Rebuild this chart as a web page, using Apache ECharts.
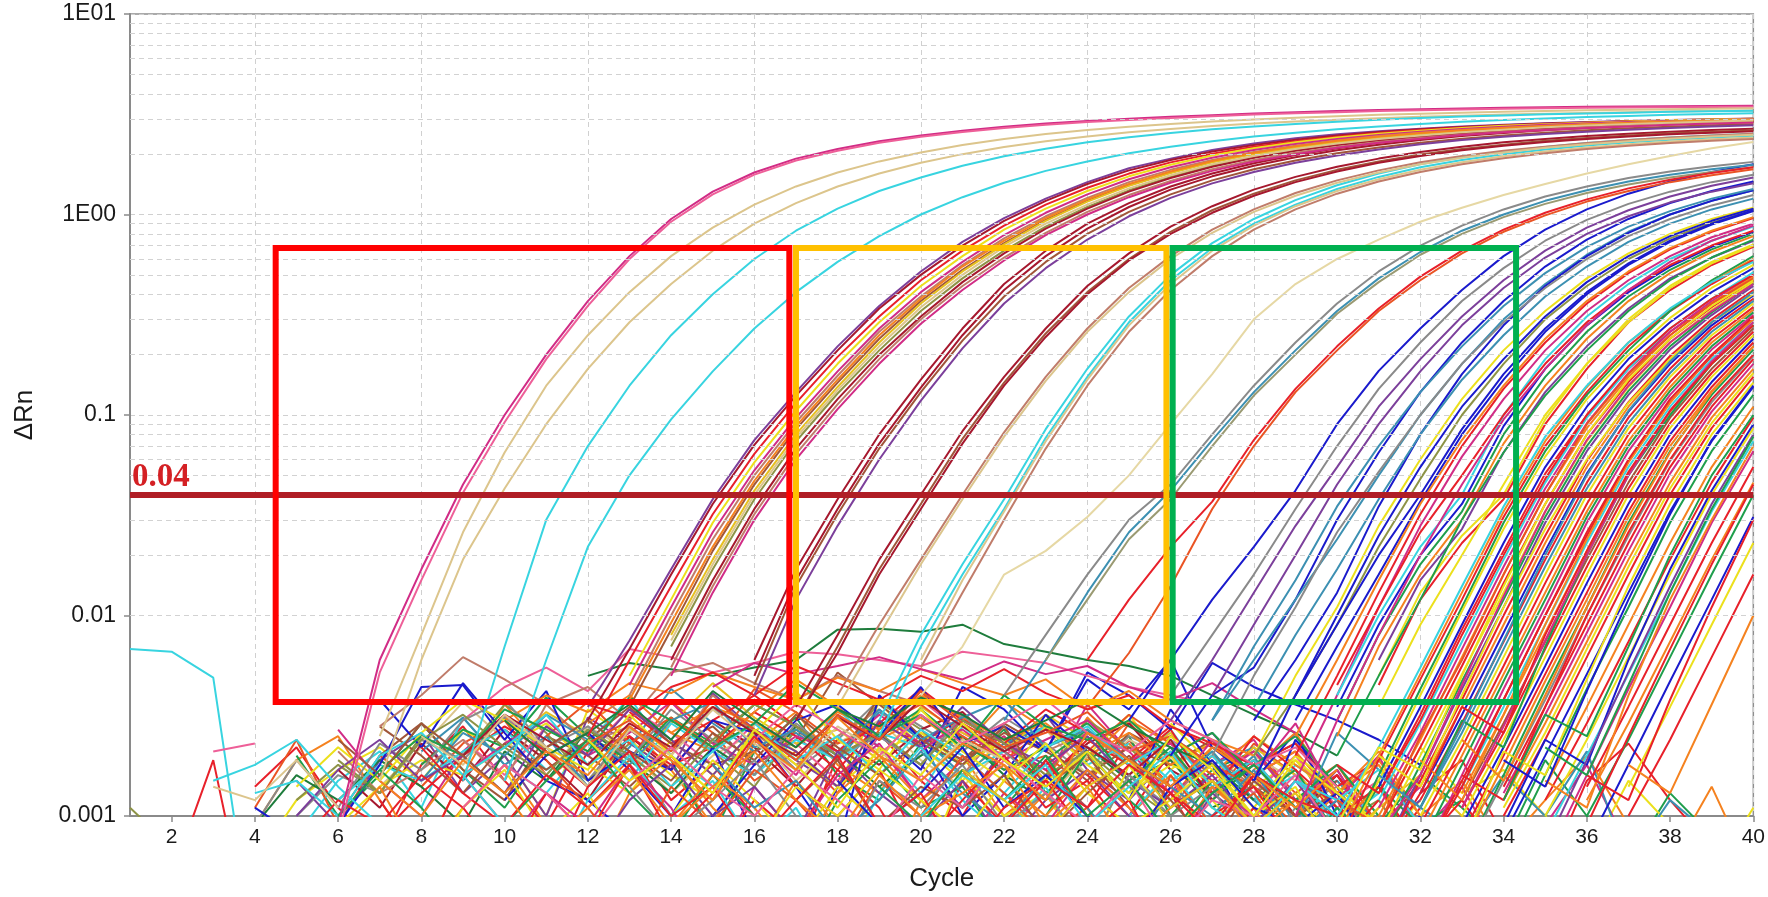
<!DOCTYPE html>
<html>
<head>
<meta charset="utf-8">
<script src="https://cdn.jsdelivr.net/npm/echarts@6/dist/echarts.min.js"></script>
<style>
  html, body { margin: 0; padding: 0; background: #fff; }
  #container { width: 1768px; height: 897px; }
</style>
</head>
<body>
<div id="container"></div>
<script>
// ---- axis data ----
var evenCycles = [2,4,6,8,10,12,14,16,18,20,22,24,26,28,30,32,34,36,38,40];
var minorRn = [0.002,0.003,0.004,0.005,0.006,0.007,0.008,0.009,
               0.02,0.03,0.04,0.05,0.06,0.07,0.08,0.09,
               0.2,0.3,0.4,0.5,0.6,0.7,0.8,0.9,
               2,3,4,5,6,7,8,9];
var thresholdRn = 0.04;

// highlight boxes, in cycles and ΔRn
var boxCycles = [[4.5, 16.84], [17.0, 25.9], [26.05, 34.3]];
var boxRn = [0.0037, 0.68];

// ---- amplification curves: [first cycle, ΔRn per cycle ...] ----
var curvesEarly = [
  [6, .0009,.006,.017,.045,.1,.2,.37,.62,.95,1.3,1.62,1.9,2.12,2.32,2.48,2.62,2.74,2.84,2.93,3.0,3.07,3.13,3.19,3.24,3.28,3.32,3.35,3.38,3.41,3.43,3.45,3.46,3.47,3.48,3.49],
  [6, .0008,.0052,.015,.041,.092,.19,.35,.6,.92,1.26,1.58,1.86,2.08,2.28,2.44,2.58,2.7,2.8,2.89,2.96,3.03,3.09,3.15,3.2,3.24,3.28,3.31,3.34,3.37,3.39,3.41,3.42,3.43,3.44,3.45],
  [7, .0025,.008,.026,.065,.14,.25,.41,.62,.86,1.12,1.38,1.62,1.84,2.04,2.22,2.38,2.52,2.64,2.74,2.83,2.91,2.98,3.04,3.09,3.14,3.18,3.22,3.25,3.28,3.31,3.33,3.35,3.37,3.39],
  [7, .0015,.006,.019,.043,.09,.17,.29,.45,.66,.9,1.14,1.38,1.6,1.81,2.0,2.17,2.32,2.45,2.57,2.67,2.76,2.84,2.91,2.97,3.02,3.07,3.11,3.15,3.18,3.21,3.24,3.26,3.28,3.3],
  [9, .0015,.007,.03,.07,.14,.25,.4,.6,.83,1.07,1.31,1.53,1.75,1.95,2.13,2.29,2.43,2.55,2.66,2.75,2.83,2.9,2.97,3.03,3.08,3.12,3.16,3.19,3.22,3.25,3.27,3.29],
  [10, .0015,.006,.022,.05,.095,.165,.27,.41,.58,.78,1.0,1.22,1.44,1.65,1.84,2.02,2.18,2.32,2.45,2.56,2.66,2.75,2.83,2.9,2.96,3.01,3.06,3.1,3.14,3.17,3.2]
];
var colorsEarly = ['magenta','pink','tan','tan','cyan','cyan'];

var curvesB = [
  [12, .0035,.0075,.017,.038,.075,.13,.22,.35,.52,.73,.96,1.2,1.45,1.7,1.9,2.1,2.26,2.4,2.51,2.6,2.68,2.75,2.8,2.85,2.89,2.93,2.96,2.99,3.01],
  [12, .003,.0068,.016,.036,.071,.125,.21,.34,.5,.7,.93,1.17,1.42,1.66,1.87,2.06,2.22,2.36,2.48,2.58,2.66,2.73,2.79,2.84,2.88,2.92,2.95,2.98,3.0],
  [12, .0025,.006,.014,.032,.064,.115,.195,.31,.47,.66,.88,1.12,1.36,1.6,1.82,2.01,2.18,2.32,2.44,2.55,2.64,2.71,2.77,2.82,2.87,2.91,2.94,2.97,2.99],
  [13, .005,.012,.029,.058,.105,.18,.29,.44,.62,.84,1.07,1.31,1.55,1.77,1.97,2.14,2.29,2.42,2.53,2.62,2.7,2.77,2.82,2.87,2.91,2.95,2.98,3.0],
  [13, .0045,.011,.026,.053,.097,.165,.27,.41,.58,.79,1.02,1.26,1.5,1.72,1.92,2.1,2.25,2.38,2.49,2.59,2.67,2.74,2.8,2.85,2.89,2.93,2.96,2.99],
  [13, .004,.01,.024,.05,.092,.157,.26,.39,.56,.76,.98,1.21,1.45,1.67,1.87,2.05,2.2,2.34,2.46,2.56,2.64,2.71,2.77,2.82,2.87,2.91,2.94,2.97],
  [13, .0035,.0085,.021,.045,.085,.145,.24,.37,.53,.72,.94,1.17,1.4,1.62,1.83,2.01,2.17,2.31,2.43,2.53,2.62,2.69,2.75,2.8,2.85,2.89,2.92,2.95],
  [14, .008,.019,.042,.08,.138,.23,.36,.52,.71,.93,1.16,1.39,1.61,1.82,2.0,2.16,2.3,2.42,2.52,2.61,2.69,2.75,2.81,2.86,2.9,2.94,2.97],
  [14, .007,.017,.038,.074,.128,.21,.33,.48,.66,.87,1.09,1.32,1.54,1.75,1.93,2.09,2.23,2.35,2.45,2.54,2.62,2.68,2.74,2.79,2.83,2.87,2.9],
  [14, .006,.015,.034,.068,.12,.2,.31,.46,.64,.85,1.07,1.3,1.52,1.73,1.92,2.08,2.22,2.34,2.45,2.54,2.62,2.69,2.75,2.8,2.84,2.88,2.91],
  [14, .0055,.014,.032,.064,.113,.19,.3,.44,.61,.81,1.03,1.25,1.47,1.68,1.87,2.03,2.17,2.3,2.41,2.5,2.58,2.65,2.71,2.76,2.81,2.85,2.88],
  [14, .005,.013,.03,.06,.107,.18,.285,.42,.59,.79,1.0,1.22,1.44,1.65,1.84,2.0,2.15,2.28,2.39,2.49,2.57,2.64,2.7,2.75,2.8,2.84,2.88],
  [13, .0038,.0092,.022,.047,.088,.15,.25,.38,.55,.74,.96,1.19,1.42,1.64,1.85,2.03,2.19,2.33,2.45,2.55,2.63,2.7,2.76,2.81,2.86,2.9,2.93,2.96],
  [14, .0075,.018,.04,.077,.133,.22,.345,.5,.69,.9,1.12,1.35,1.57,1.78,1.96,2.12,2.26,2.38,2.48,2.57,2.65,2.72,2.78,2.83,2.87,2.91,2.94]
];
var colorsB = ['purple','darkred','red','yellow','magenta','rosy','brown','gold','olive','darkred','rosy','magenta','orange','tan'];

var curvesC = [
  [16, .006,.017,.038,.08,.15,.27,.45,.66,.9,1.14,1.38,1.6,1.8,1.98,2.14,2.28,2.4,2.5,2.59,2.66,2.73,2.78,2.83,2.87,2.9],
  [16, .005,.015,.034,.072,.137,.25,.42,.62,.85,1.09,1.33,1.55,1.75,1.93,2.09,2.23,2.35,2.46,2.55,2.63,2.7,2.76,2.81,2.85,2.89],
  [16, .0045,.014,.032,.068,.13,.235,.39,.58,.8,1.03,1.26,1.48,1.68,1.86,2.02,2.16,2.28,2.39,2.48,2.56,2.63,2.69,2.74,2.79,2.83],
  [17, .0035,.008,.019,.04,.083,.155,.27,.44,.64,.87,1.1,1.33,1.54,1.73,1.9,2.05,2.18,2.29,2.38,2.46,2.53,2.59,2.64,2.68],
  [17, .003,.007,.017,.036,.076,.145,.255,.41,.6,.82,1.05,1.27,1.48,1.67,1.84,1.99,2.12,2.23,2.33,2.41,2.48,2.54,2.59,2.63],
  [17, .003,.0065,.016,.034,.072,.14,.245,.4,.59,.8,1.02,1.24,1.45,1.64,1.81,1.96,2.09,2.2,2.3,2.38,2.45,2.51,2.56,2.6],
  [18, .004,.009,.019,.04,.082,.155,.27,.43,.62,.84,1.06,1.28,1.48,1.66,1.82,1.96,2.08,2.18,2.27,2.35,2.42,2.48,2.53],
  [18, .0035,.008,.018,.038,.078,.148,.26,.41,.6,.81,1.03,1.24,1.44,1.62,1.78,1.92,2.04,2.15,2.24,2.32,2.39,2.45,2.5],
  [16, .004,.012,.028,.06,.118,.215,.36,.54,.75,.98,1.21,1.43,1.63,1.81,1.97,2.11,2.24,2.35,2.44,2.52,2.59,2.65,2.7,2.75,2.79]
];
var colorsC = ['darkred','darkred','brown','darkred','brown','darkred','rosy','tan','purple'];

var curvesD = [
  [19, .003,.008,.018,.038,.085,.17,.31,.5,.72,.95,1.18,1.4,1.6,1.78,1.93,2.06,2.17,2.27,2.35,2.42,2.48,2.53],
  [19, .0025,.007,.016,.034,.077,.155,.29,.47,.68,.9,1.12,1.34,1.54,1.72,1.87,2.0,2.11,2.21,2.29,2.36,2.42,2.47],
  [20, .006,.015,.033,.074,.15,.28,.45,.66,.88,1.1,1.31,1.5,1.67,1.82,1.95,2.06,2.16,2.24,2.31,2.37,2.42],
  [20, .0055,.013,.03,.068,.14,.26,.42,.62,.84,1.06,1.27,1.46,1.63,1.78,1.91,2.02,2.12,2.2,2.27,2.33,2.38],
  [20, .004,.007,.016,.021,.031,.05,.09,.16,.3,.45,.6,.75,.92,1.08,1.25,1.42,1.6,1.78,1.96,2.14,2.3],
  [22, .004,.008,.016,.03,.045,.08,.14,.23,.36,.52,.7,.88,1.06,1.23,1.38,1.52,1.64,1.74,1.83],
  [22, .003,.006,.013,.026,.042,.075,.13,.21,.33,.48,.65,.83,1.0,1.17,1.32,1.46,1.58,1.68,1.77],
  [23, .006,.012,.024,.038,.07,.125,.2,.32,.46,.63,.8,.97,1.13,1.28,1.41,1.53,1.63,1.72],
  [24, .006,.012,.022,.037,.075,.135,.22,.34,.49,.66,.84,1.02,1.19,1.35,1.49,1.61,1.72],
  [24, .0035,.0065,.014,.034,.07,.13,.21,.33,.47,.64,.82,.99,1.16,1.31,1.45,1.57,1.68]
];
var colorsD = ['cyan','cyan','tan','rosy','paletan','gray','teal','olivegray','red','orangered'];

var curvesE = [
  [25, .003,.006,.012,.022,.042,.09,.166,.27,.42,.62,.84,1.06,1.27,1.46,1.63,1.78],
  [26, .002,.004,.0055,.012,.03,.065,.13,.23,.37,.55,.75,.95,1.14,1.31,1.46],
  [26, .003,.006,.013,.028,.055,.11,.19,.31,.47,.66,.86,1.05,1.23,1.39,1.53],
  [26, .004,.008,.016,.034,.07,.135,.23,.37,.54,.74,.94,1.13,1.3,1.45,1.58],
  [27, .003,.006,.012,.024,.05,.1,.18,.3,.45,.63,.82,1.0,1.17,1.32],
  [28, .003,.006,.013,.035,.08,.16,.28,.44,.62,.81,1.0,1.17,1.32],
  [28, .002,.005,.011,.028,.06,.12,.21,.33,.48,.64,.8,.95,1.08],
  [28, .002,.004,.009,.022,.048,.1,.18,.3,.44,.6,.76,.91,1.05],
  [29, .003,.007,.016,.037,.08,.15,.26,.4,.56,.73,.89,1.04],
  [29, .002,.005,.013,.032,.07,.135,.23,.36,.51,.67,.82,.96],
  [29, .0015,.004,.011,.028,.062,.12,.21,.33,.47,.62,.77,.9],
  [30, .004,.01,.022,.04,.1,.19,.31,.45,.6,.74,.87],
  [30, .0035,.009,.02,.036,.088,.17,.28,.41,.55,.69,.82],
  [30, .003,.008,.018,.033,.08,.155,.26,.39,.53,.67,.8],
  [30, .0025,.007,.016,.03,.072,.14,.24,.37,.51,.65,.78],
  [31, .006,.015,.027,.065,.13,.22,.34,.48,.61,.74],
  [31, .005,.013,.025,.04,.095,.18,.3,.44,.58,.71],
  [31, .0045,.012,.023,.038,.09,.17,.29,.42,.56,.69],
  [29, .004,.009,.02,.04,.085,.16,.27,.41,.57,.74,.9,1.05],
  [27, .003,.007,.015,.035,.07,.13,.22,.35,.51,.69,.87,1.04,1.2,1.34],
  [27, .002,.005,.011,.026,.052,.1,.18,.29,.43,.6,.78,.95,1.11,1.25],
  [28, .0015,.004,.01,.025,.055,.11,.19,.31,.46,.62,.78,.93,1.07],
  [29, .0025,.006,.015,.036,.075,.14,.24,.37,.52,.68,.83,.97],
  [30, .002,.005,.012,.03,.065,.125,.21,.33,.47,.61,.75],
  [30, .0045,.011,.026,.05,.1,.18,.29,.42,.56,.7,.83],
  [27, .004,.009,.02,.045,.09,.165,.28,.43,.61,.8,.98,1.15,1.3,1.43],
  [28, .0035,.008,.017,.038,.08,.15,.25,.39,.55,.73,.9,1.06,1.2],
  [31, .0035,.009,.02,.045,.1,.18,.29,.43,.57,.7],
  [29, .001,.003,.008,.02,.045,.095,.17,.28,.42,.58,.74,.88]
];
var colorsE = ['blue','blue','purple','gray','teal','blue','yellow','olive','blue','red','magenta','cyan','blue','green','orange',
  'purple','yellow','red','blue','teal','gray','blue','orange','green','red','purple','teal','yellow','magenta'];

var curvesLate = [
  [30, .0008,.002,.0051,.013,.033,.074,.138,.23,.335,.46,.6],
  [30, .0007,.0019,.0048,.012,.031,.07,.13,.22,.33,.45,.59],
  [30, .0006,.0016,.0043,.011,.029,.066,.126,.21,.33,.47,.62],
  [30, .0006,.0015,.004,.0105,.027,.062,.12,.2,.305,.43,.56],
  [31, .0014,.0035,.009,.023,.055,.11,.19,.29,.41,.54],
  [31, .0013,.0032,.0085,.021,.051,.1,.17,.26,.36,.47],
  [31, .0012,.0029,.0074,.019,.046,.097,.17,.27,.38,.515],
  [31, .0011,.0026,.0068,.0175,.043,.091,.162,.26,.37,.5],
  [31, .001,.0024,.0062,.016,.04,.086,.155,.25,.36,.49],
  [31, .0009,.0022,.0056,.0145,.036,.08,.146,.24,.345,.47],
  [31, .0008,.002,.0051,.013,.033,.074,.138,.23,.335,.46],
  [31, .0007,.0018,.0047,.012,.031,.07,.132,.22,.325,.45],
  [31, .0006,.0016,.0043,.011,.029,.066,.126,.212,.315,.44],
  [31, .0006,.0015,.0038,.01,.025,.059,.116,.197,.3,.42],
  [32, .0014,.0035,.009,.023,.055,.11,.19,.29,.41],
  [32, .0013,.0032,.0082,.021,.051,.104,.18,.28,.395],
  [32, .0012,.0029,.0074,.019,.046,.097,.17,.27,.38],
  [32, .0011,.0026,.0068,.0175,.043,.091,.162,.26,.37],
  [32, .001,.0024,.0062,.016,.04,.086,.155,.25,.36],
  [32, .0009,.0022,.0056,.0145,.036,.08,.146,.24,.345],
  [32, .0008,.002,.0051,.013,.033,.074,.138,.23,.335],
  [32, .0007,.0018,.0047,.012,.031,.07,.132,.22,.325],
  [32, .0006,.0016,.0043,.011,.029,.066,.126,.212,.315],
  [32, .0006,.0015,.0038,.01,.025,.059,.116,.197,.3],
  [33, .0014,.0035,.009,.023,.055,.11,.19,.29],
  [33, .0013,.0032,.0082,.021,.051,.104,.18,.28],
  [33, .0012,.0029,.0074,.019,.046,.097,.17,.27],
  [33, .0011,.0026,.0068,.0175,.043,.091,.162,.26],
  [33, .001,.0024,.0062,.016,.04,.086,.155,.25],
  [33, .0009,.0022,.0056,.0145,.036,.08,.146,.24],
  [33, .0008,.002,.0051,.013,.033,.074,.138,.23],
  [33, .0007,.0018,.0047,.012,.031,.07,.132,.22],
  [33, .0006,.0016,.0043,.011,.029,.066,.126,.212],
  [33, .0006,.0015,.0038,.01,.025,.059,.116,.197],
  [34, .0014,.0035,.009,.023,.055,.11,.19],
  [34, .0013,.0032,.0082,.021,.051,.104,.18],
  [34, .0012,.0029,.0074,.019,.046,.097,.17],
  [34, .0011,.0026,.0068,.0175,.043,.091,.162],
  [34, .001,.0024,.0062,.016,.04,.086,.155],
  [34, .0008,.002,.0051,.013,.033,.074,.138],
  [34, .0006,.0016,.0043,.011,.029,.066,.126],
  [35, .0014,.0035,.009,.023,.055,.11],
  [35, .0012,.0029,.0074,.019,.046,.097],
  [35, .001,.0024,.0062,.016,.04,.086],
  [35, .0008,.002,.0051,.013,.033,.074],
  [35, .0006,.0016,.0043,.011,.029,.066],
  [36, .0014,.0035,.009,.023,.055],
  [36, .0012,.0029,.0074,.019,.046],
  [36, .001,.0024,.0062,.016,.04],
  [36, .0007,.0018,.0047,.012,.031],
  [37, .0014,.0035,.009,.023],
  [37, .001,.0024,.0062,.016],
  // irregular late starters
  [30, .0012,.0009,.0025,.006,.016,.04,.09,.16,.25,.36,.48],
  [31, .002,.0014,.004,.011,.027,.06,.115,.19,.29,.4],
  [32, .0011,.003,.0022,.007,.02,.05,.1,.18,.28],
  [33, .0016,.0012,.0035,.01,.026,.06,.12,.2],
  [34, .0009,.0024,.0018,.006,.017,.042,.09],
  [35, .0015,.0011,.004,.012,.03,.07],
  [29, .0015,.001,.0022,.0055,.014,.035,.078,.14,.23,.34,.46,.58],
  [30, .0018,.0013,.003,.008,.02,.048,.1,.175,.27,.38,.5],
  [31, .0008,.0016,.0045,.0125,.033,.075,.14,.23,.33,.45],
  [32, .0019,.0012,.0032,.009,.024,.058,.115,.2,.3],
  [33, .0007,.0021,.0016,.0048,.014,.036,.08,.145],
  [34, .0012,.0032,.0025,.007,.02,.05,.1],
  [36, .0016,.0012,.0038,.011,.03],
  [35, .0007,.0019,.0052,.014,.036,.08],
  [33, .0024,.0015,.004,.011,.028,.065,.13,.22],
  [32, .0006,.0014,.0038,.01,.026,.06,.12,.2,.31],
  [31, .0016,.0011,.0028,.0075,.02,.05,.105,.185,.29,.41],
  [30, .0009,.0022,.0017,.005,.014,.036,.08,.15,.24,.35,.47],
  [34, .0019,.0014,.0042,.012,.032,.075,.14],
  [36, .0009,.0025,.0068,.018,.045],
  [37, .0018,.0013,.0036,.01],
  [35, .0022,.0016,.0045,.013,.034,.078],
  [33, .0011,.0028,.0075,.02,.05,.105,.185,.29],
  [32, .0013,.0035,.0026,.008,.021,.052,.105,.18,.28]
];
var colorsLate = ['orange','red','green','yellow','blue','red','cyan','magenta','orange','red','yellow','green','purple','red',
  'orange','blue','red','teal','yellow','red','orange','green','magenta','red','cyan','orange','brown','red','yellow','blue',
  'red','orange','green','gray','red','magenta','orange','yellow','red','blue','green','orange','red','yellow','cyan','magenta',
  'red','orange','green','blue','yellow','red',
  'orangered','yellow','green','red','blue','orange','cyan','red','magenta','orange','yellow','green','red','purple',
  'orange','red','teal','yellow','blue','red','orange','green','magenta','red'];

// ---- baseline noise, ΔRn in units of 1e-4: [first cycle, values ...] ----
var noise = [
  [4, 14,22,11,7,18,28,15,9,21,25,12,18,10,6,20,26,15,10,22,17,11,24,14,8,16,21,9,6,11],
  [4, 9,19,25,12,6,16,36,21,14,28,17,9,23,33,18,13,26,20,10,15,31,19,12,22,16,8,13,18,9],
  [4, 6,12,17,22,15,27,20,10,34,24,16,12,29,21,14,37,22,15,25,13,20,32,17,24,14,19,11,7,12],
  [5, 20,10,16,29,17,11,22,14,27,19,8,21,31,16,12,23,18,27,13,19,25,10,17,21,12,8,15,6],
  [5, 8,15,21,11,31,18,13,23,39,20,14,25,17,34,22,13,28,19,12,22,16,27,14,10,18,13,8],
  [4, 11,24,9,20,14,23,30,16,12,19,37,26,15,21,13,27,42,24,17,20,14,29,19,12,23,16,9,14,7],
  [6, 27,15,10,21,32,21,14,27,19,12,24,16,32,22,12,19,25,15,36,21,13,18,24,12,16,9,14],
  [5, 15,9,19,26,13,20,10,31,23,17,41,27,19,14,25,18,11,22,32,17,12,20,26,15,10,17,8,12],
  [6, 10,20,29,17,12,25,20,14,22,28,18,24,52,36,25,19,29,22,15,26,20,13,18,23,12,8,15],
  [4, 7,10,16,13,24,19,31,21,15,27,22,34,27,17,24,38,28,21,31,23,16,25,20,13,18,11,14,7],
  [7, 14,22,37,24,16,28,21,13,20,26,15,23,30,19,14,22,27,16,24,19,12,20,15,10,13],
  [6, 17,11,23,15,27,19,12,25,17,30,22,14,24,18,27,33,21,15,23,29,17,13,19,10,16,8],
  [8, 21,31,18,25,14,22,43,29,21,26,19,33,25,16,23,28,20,13,25,18,22,12,15,9],
  [5, 12,18,13,25,20,36,26,15,23,31,21,14,27,20,37,27,18,24,16,30,22,14,20,13,17,9,12,6],
  [9, 24,16,28,21,34,26,18,29,23,15,25,38,26,20,28,22,16,24,18,13,20,11,15],
  [4, 9,16,12,19,14,9,21,15,27,19,13,22,16,28,21,14,20,25,16,12,22,15,19,11,14,8,10,6],
  [10, 22,33,25,18,29,46,31,23,27,19,35,26,21,32,24,18,26,14,22,16,11],
  [6, 21,13,17,24,15,36,23,28,20,40,26,18,25,34,22,16,28,21,26,18,12,20,14,10,13,7],
  [7, 8,13,20,28,21,14,25,18,22,33,25,17,29,23,31,21,15,24,18,27,13,19,11,16,8],
  [12, 29,40,26,21,33,48,35,24,31,22,37,27,19,30,23,16,25,18,13,19,10],
  [5, 6,9,14,19,16,22,29,18,13,24,16,27,20,14,21,26,18,24,15,20,13,18,15,10,13,8,6],
  [8, 18,27,22,39,25,19,31,23,36,28,20,25,34,23,17,22,29,19,14,21,12,17,8],
  [11, 25,37,23,31,22,43,33,23,28,36,25,19,27,21,32,23,16,21,13,18,9],
  [6, 12,18,15,21,27,17,23,15,29,21,16,24,19,26,22,16,21,28,18,23,15,20,12,16,9,13],
  [9, 16,23,30,20,26,37,23,18,25,21,32,23,27,19,24,30,19,23,15,21,12,17,8],
  [13, 33,23,30,40,28,21,29,43,30,23,34,26,19,28,22,18,23,14,19],
  [7, 28,20,13,23,17,24,35,23,18,21,27,19,39,25,19,26,21,16,22,18,24,14,10,15],
  [14, 26,35,29,22,33,27,40,31,24,29,20,26,18,23,16,21,12],
  [12, 50,58,54,50,55,60,85,86,83,90,72,66,60,56,50,40,32,26,20],
  [6, 9,18,44,45,24,42,15,21,17,30,26,14,7,40,24,10,16,32,21,12,34,18,8,24,14,6,10],
  [7, 38,22,46,26,15,12,8,6,10,18,30,36,25,44,23,28,21,48,34,60,22,15,26,10,6],
  [10, 12,20,26,17,10,22,8,5,14,26,17,44,34,21,52,40,27,58,44,36,30,24,18],
  [24, 16,10,21,13,25,17,11,6,13,19,8,5,15,23,12,7,4],
  [25, 23,14,8,17,26,13,21,10,15,7,12,20,9,6,14,5],
  [22, 11,19,27,15,22,12,18,25,14,9,16,11,7,19,10,6,13,8],
  [26, 29,18,11,20,14,9,22,13,17,10,6,15,9,5,11],
  [20, 21,30,23,17,26,19,13,24,16,29,12,20,8,14,6,9,18,7,4,8],
  [27, 13,20,9,26,17,11,8,16,10,21,6,12,8,5],
  [9, 30,44,55,42,68,62,52,58,66,64,60,56,66,62,58,50,44,40,36],
  [7, 28,40,62,48,36,44,30,52,58,46,38,50,42,36],
  [10, 30,40,33,46,41,52,44,38,49,42,54,46,40,48,34,42,30,24,20],
  [15, 44,58,51,56,62,54,48,59,51,56,44,38,46,34,26],
  [12, 36,31,44,52,40,56,46,38,50,42,54,41,34,40,28,23,18],
  [5, 14,22,15,26,38,30,22,17,32,20,13,26,42,24,17,34,21,15,28,18,13,20,11,8],
  [4, 9,19,11,23,17,30,38,22,28,19,34,24,16,29,20,25,18,32,21,14,22,16,11,19,9,6],
  [8, 15,26,20,32,24,18,30,37,22,27,20,34,24,31,38,22,27,19,14,21,12,8],
  [5, 10,17,24,15,20,13,28,20,34,24,16,27,21,14,30,22,35,23,18,25,15,11,16,9],
  [6, 19,13,24,32,22,16,27,20,14,24,36,28,20,26,18,30,23,16,21,14,10],
  [4, 13,15,10,20,26,16,22,32,18,24,14,21,29,19,25,16,27,20,13,22,28,18,24,14,19,11,8],
  [7, 17,25,20,34,27,21,39,30,22,29,46,34,25,32,22,40,28,24,30,20,26,16,12,18,10],
  [9, 20,32,24,18,29,22,35,26,20,31,24,38,28,21,27,22,16,24,12],
  [6, 24,16,29,20,13,22,30,21,15,26,19,32,22,16,24,18,28,14,20,11],
  [11, 15,23,30,21,38,27,19,32,24,42,29,22,26,33,21,25,18,14,9],
  [8, 25,18,32,22,14,27,20,34,23,17,28,21,15,24,19,12,20],
  [16, 24,36,27,20,32,23,29,38,26,21,30,24,18,22,14],
  [10, 30,20,26,36,24,42,30,22,34,28,39,32,24,30,38,28,22,18,12],
  [6, 8,14,6,11,18,9,5,13,20,11,7,15,9,4,12,17,8,13,6,10,16,7,11,5,9,14,6],
  [7, 12,6,16,9,5,14,21,10,6,12,8,17,11,5,15,9,19,10,7,13,6,11,8,12,5],
  [8, 5,11,17,8,13,6,10,19,12,7,14,9,5,16,10,13,6,18,9,12,7,10,5,8],
  [9, 16,9,5,12,20,10,15,7,11,5,13,22,12,8,14,6,10,17,9,13,5,11,7],
  [6, 10,17,11,6,9,15,24,13,8,16,10,5,12,19,11,14,7,10,21,12,8,15,9,6,11,7],
  [10, 7,13,9,18,11,5,14,8,16,23,12,7,13,9,17,11,6,14,10,8,12],
  [11, 19,11,6,14,9,17,12,7,15,10,20,13,8,11,5,16,9,13,7,10],
  [12, 6,12,18,10,14,8,21,13,9,15,7,12,17,10,6,13,9,15,8],
  [13, 14,8,12,19,10,6,15,11,18,9,13,7,16,10,14,6,11,8],
  [8, 22,13,9,16,11,18,8,13,25,14,10,17,7,12,20,11,15,8,13,9,16,10,7,12],
  [14, 9,16,11,6,13,20,12,8,15,10,17,11,7,14,9,12,6,10],
  [15, 18,11,15,8,12,21,13,9,16,11,6,14,10,17,8,12,7],
  [16, 7,14,10,17,12,8,15,23,13,9,12,18,10,14,6,11],
  [17, 12,19,9,14,11,16,8,13,20,12,7,15,10,13,8],
  [18, 15,9,13,22,11,16,10,7,14,19,11,9,13,6,10],
  [5, 7,12,9,16,11,6,13,8,18,10,14,7,12,20,9,13,6,11,15,8,12,5,10,14,7,9],
  [9, 11,18,13,8,15,22,14,10,17,12,8,16,11,19,13,9,15,7,12,10,16,8,6],
  [7, 15,10,19,13,7,11,17,9,14,21,12,8,16,10,13,18,9,14,7,11,15,8,12,6],
  [19, 14,9,17,12,20,10,15,8,13,18,11,7,14,9,12],
  [20, 10,16,12,18,9,14,21,11,8,15,12,17,9,6],
  [21, 17,12,8,14,19,11,15,9,13,7,11,16,10,5],
  [22, 9,15,11,18,13,8,16,12,10,14,7,12,6],
  [12, 24,15,20,13,27,18,11,22,16,29,19,14,21,12,25,17,10,19,13,9],
  [10, 13,21,16,28,19,12,24,17,31,20,15,23,18,12,26,19,14,22,16,11,17]
];
var colorsNoise = ['red','orange','yellow','green','cyan','orangered','magenta','purple','brown','gray',
  'tan','darkred','teal','olive','pink','darkgreen','gold','rosy','red','orange',
  'yellow','green','orangered','cyan','magenta','red','brown','orange','darkgreen','blue',
  'blue','blue','red','orange','green','yellow','magenta','teal','pink','rosy',
  'orange','magenta','red','yellow','gray','teal','purple','olive','cyan','green',
  'darkred','brown','orangered','tan','pink','darkgreen',
  'orange','red','yellow','cyan','green','magenta','orangered','purple','gray','red',
  'orange','teal','yellow','brown','blue','red','pink','orange','green','cyan','gold','red','yellow','orange'];

// short traces at the far left, same 1e-4 units
var tracesLeft = [
  [1, 68,66,49,2],
  [3, 21,23],
  [2, 5,19,2],
  [3, 15,18,24,14,9],
  [3, 14,12,19,11],
  [4, 11,8],
  [1, 11,7]
];
var colorsLeft = ['cyan','pink','red','cyan','tan','blue','olive'];

var palette = {
  red:'#e8202a', orange:'#f5821f', yellow:'#ece01c', green:'#1f9e4c', cyan:'#38d4e0',
  blue:'#1a1acc', magenta:'#d12c86', purple:'#7c3f9b', brown:'#a0563a', gray:'#8a8a8a',
  tan:'#dcc58c', paletan:'#e6d8a4', darkred:'#a6182e', teal:'#3c90b2', olive:'#8d9346',
  olivegray:'#9a9a72', pink:'#ee5f98', darkgreen:'#1e7c3c', orangered:'#ea5424',
  gold:'#e6c020', rosy:'#c07c6a'
};

function makeLine(row, color, unit) {
  var pts = [];
  for (var i = 1; i < row.length; i++) {
    pts.push([row[0] + i - 1, row[i] * unit]);
  }
  return {
    type: 'line', data: pts, symbol: 'none', silent: true, z: 2,
    lineStyle: { color: palette[color], width: 2 }
  };
}

var series = [];
noise.forEach(function (r, i) { series.push(makeLine(r, colorsNoise[i % colorsNoise.length], 0.0001)); });
tracesLeft.forEach(function (r, i) { series.push(makeLine(r, colorsLeft[i], 0.0001)); });
[[curvesLate, colorsLate], [curvesE, colorsE], [curvesD, colorsD], [curvesC, colorsC],
 [curvesB, colorsB], [curvesEarly, colorsEarly]].forEach(function (g) {
  g[0].forEach(function (r, i) { series.push(makeLine(r, g[1][i % g[1].length], 1)); });
});

// log minor grid lines
series.push({
  type: 'line', data: [], silent: true, z: 0,
  markLine: {
    silent: true, symbol: ['none', 'none'], label: { show: false },
    lineStyle: { color: '#d2d2d2', type: [5, 4], width: 1 },
    data: minorRn.map(function (v) { return { yAxis: v }; })
  }
});

// threshold
series.push({
  type: 'line', data: [], silent: true, z: 8,
  markLine: {
    silent: true, symbol: ['none', 'none'],
    lineStyle: { color: '#b01e26', type: 'solid', width: 6 },
    label: {
      show: true, position: 'insideStartTop', formatter: '0.04', distance: [2, 1],
      color: '#d42024', fontFamily: 'Liberation Serif', fontWeight: 'bold', fontSize: 33
    },
    data: [{ yAxis: thresholdRn }]
  }
});

// boxes
var boxColors = ['#ff0000', '#ffc000', '#00b050'];
boxCycles.forEach(function (b, i) {
  series.push({
    type: 'line', silent: true, symbol: 'none', z: 10,
    lineStyle: { color: boxColors[i], width: 6, join: 'miter', cap: 'square' },
    data: [[b[0], boxRn[0]], [b[0], boxRn[1]], [b[1], boxRn[1]], [b[1], boxRn[0]], [b[0], boxRn[0]]]
  });
});

var chart = echarts.init(document.getElementById('container'), null, { renderer: 'canvas' });
var decadeLabel = { '-3': '0.001', '-2': '0.01', '-1': '0.1', '0': '1E00', '1': '1E01' };

chart.setOption({
  animation: false,
  backgroundColor: '#ffffff',
  grid: { left: 130, right: 10, top: 14, bottom: 80, show: true, borderColor: '#8f8f8f', borderWidth: 1.5 },
  xAxis: {
    type: 'value', min: 1, max: 40, interval: 1,
    name: 'Cycle', nameLocation: 'middle', nameGap: 50,
    nameTextStyle: { fontFamily: 'Liberation Sans', fontSize: 26, color: '#1a1a1a' },
    axisLine: { lineStyle: { color: '#8a8a8a', width: 2 } },
    axisTick: { customValues: evenCycles, length: 6, lineStyle: { color: '#8a8a8a', width: 1.5 } },
    axisLabel: { customValues: evenCycles, margin: 11, fontFamily: 'Liberation Sans', fontSize: 21, color: '#1a1a1a' },
    splitLine: { show: true, lineStyle: { color: ['rgba(0,0,0,0)', '#d0d0d0'], type: [5, 4], width: 1 } }
  },
  yAxis: {
    type: 'log', logBase: 10, min: 0.001, max: 10,
    name: 'ΔRn', nameLocation: 'middle', nameGap: 92,
    nameTextStyle: { fontFamily: 'Liberation Sans', fontSize: 26, color: '#1a1a1a' },
    axisLine: { show: true, lineStyle: { color: '#8a8a8a', width: 2 } },
    axisTick: { show: true, length: 6, lineStyle: { color: '#8a8a8a', width: 1.5 } },
    axisLabel: {
      margin: 14, fontFamily: 'Liberation Sans', fontSize: 23, color: '#1a1a1a',
      formatter: function (v) { return decadeLabel[String(Math.round(Math.log10(v)))] || ''; }
    },
    splitLine: { show: true, lineStyle: { color: '#d0d0d0', type: [5, 4], width: 1 } },
    minorTick: { show: false }, minorSplitLine: { show: false }
  },
  series: series
});

window.addEventListener('resize', chart.resize);
</script>
</body>
</html>
